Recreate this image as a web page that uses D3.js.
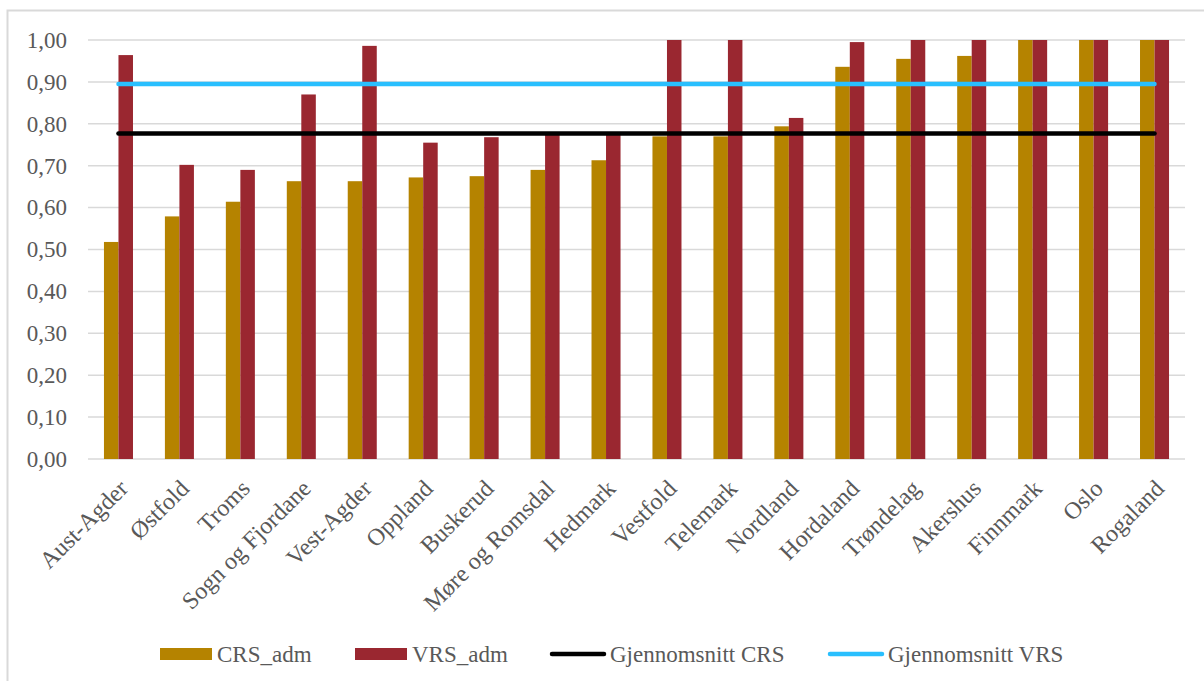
<!DOCTYPE html>
<html>
<head>
<meta charset="utf-8">
<script src="https://cdn.jsdelivr.net/npm/d3@7"></script>
</head>
<body style="margin:0;padding:0;background:#fff">
<svg id="chart" width="1204" height="681" style="display:block"></svg>
<script>
// Counties, sorted by CRS score
const categories = ["Aust-Agder", "Østfold", "Troms", "Sogn og Fjordane", "Vest-Agder", "Oppland",
  "Buskerud", "Møre og Romsdal", "Hedmark", "Vestfold", "Telemark", "Nordland", "Hordaland",
  "Trøndelag", "Akershus", "Finnmark", "Oslo", "Rogaland"];
const crsAdm = [0.518, 0.579, 0.614, 0.663, 0.663, 0.672, 0.675, 0.690, 0.713, 0.770, 0.770,
  0.794, 0.936, 0.955, 0.962, 1.000, 1.000, 1.000];
const vrsAdm = [0.964, 0.702, 0.690, 0.870, 0.986, 0.755, 0.768, 0.776, 0.776, 1.000, 1.000,
  0.814, 0.995, 1.000, 1.000, 1.000, 1.000, 1.000];
const avgCrs = [0.777];
const avgVrs = [0.895];
const yTicks = [0, 0.1, 0.2, 0.3, 0.4, 0.5, 0.6, 0.7, 0.8, 0.9, 1.0];
const seriesNames = ["CRS_adm", "VRS_adm"];
const lineNames = ["Gjennomsnitt CRS", "Gjennomsnitt VRS"];

const colors = { CRS_adm: "#B58300", VRS_adm: "#9A2730" };
const lineColors = ["#000000", "#29BFFE"];
const FONT = "Liberation Serif";
const TEXT_COLOR = "#595959";

const svg = d3.select("#chart");
const fmt = v => d3.format(".2f")(v).replace(".", ",");
const styleText = (sel, size) => sel.style("font-family", FONT).style("font-size", (size || 23) + "px")
  .style("fill", TEXT_COLOR);

// Chart area frame
svg.append("path")
  .attr("d", "M7.5,681 V10.5 H1204")
  .attr("fill", "none").attr("stroke", "#d9d9d9").attr("stroke-width", 2);

const plot = { left: 88, right: 1185, top: 40, bottom: 459 };

const x = d3.scaleBand().domain(categories).range([plot.left, plot.right]).padding(0);
const x1 = d3.scaleBand().domain(seriesNames).range([0, x.bandwidth()]).paddingOuter(1.1).paddingInner(0);
const y = d3.scaleLinear().domain([0, 1]).range([plot.bottom, plot.top]);

// Gridlines
svg.append("g")
  .selectAll("line").data(yTicks).join("line")
  .attr("x1", plot.left).attr("x2", plot.right)
  .attr("y1", d => y(d)).attr("y2", d => y(d))
  .attr("stroke", "#d9d9d9").attr("stroke-width", 1.5);

// Y axis labels
const yAxis = d3.axisLeft(y).tickValues(yTicks).tickFormat(fmt).tickSize(0).tickPadding(0);
const yg = svg.append("g").attr("transform", `translate(${plot.left - 21},0)`).call(yAxis);
yg.attr("font-family", null).attr("font-size", null);
yg.select(".domain").remove();
yg.selectAll("text").call(styleText, 23);

// Bars
const rows = categories.map((c, i) => ({ cat: c, CRS_adm: crsAdm[i], VRS_adm: vrsAdm[i] }));
const groups = svg.append("g").selectAll("g").data(rows).join("g")
  .attr("transform", d => `translate(${x(d.cat)},0)`);
groups.selectAll("rect")
  .data(d => seriesNames.map(k => ({ key: k, value: d[k] })))
  .join("rect")
  .attr("x", d => x1(d.key))
  .attr("width", x1.bandwidth())
  .attr("y", d => y(d.value))
  .attr("height", d => y(0) - y(d.value))
  .attr("fill", d => colors[d.key]);

// Average lines, spanning first to last category centre
const xFirst = x(categories[0]) + x.bandwidth() / 2;
const xLast = x(categories[categories.length - 1]) + x.bandwidth() / 2;
[avgCrs[0], avgVrs[0]].forEach((v, i) => {
  svg.append("line")
    .attr("x1", xFirst).attr("x2", xLast)
    .attr("y1", y(v)).attr("y2", y(v))
    .attr("stroke", lineColors[i]).attr("stroke-width", 4.5)
    .attr("stroke-linecap", "round");
});

// X axis labels, rotated
const xAxis = d3.axisBottom(x).tickSize(0).tickPadding(0);
const xg = svg.append("g").attr("transform", `translate(0,${plot.bottom})`).call(xAxis);
xg.attr("font-family", null).attr("font-size", null);
xg.select(".domain").remove();
xg.selectAll("text")
  .call(styleText, 24)
  .attr("text-anchor", "end")
  .attr("x", 0).attr("y", 0).attr("dy", "0.35em")
  .attr("transform", "translate(5,25) rotate(-45)");

// Legend
const legend = svg.append("g");
const legendItems = [
  { type: "rect", name: seriesNames[0], color: colors.CRS_adm, x0: 160 },
  { type: "rect", name: seriesNames[1], color: colors.VRS_adm, x0: 355 },
  { type: "line", name: lineNames[0], color: lineColors[0], x0: 552 },
  { type: "line", name: lineNames[1], color: lineColors[1], x0: 830 }
];
const ly = 654;
legendItems.forEach(it => {
  if (it.type === "rect") {
    legend.append("rect").attr("x", it.x0).attr("y", ly - 6).attr("width", 52).attr("height", 12)
      .attr("fill", it.color);
    legend.append("text").attr("x", it.x0 + 57).attr("y", ly).attr("dy", "0.35em")
      .call(styleText, 23).text(it.name);
  } else {
    legend.append("line").attr("x1", it.x0).attr("x2", it.x0 + 52).attr("y1", ly).attr("y2", ly)
      .attr("stroke", it.color).attr("stroke-width", 4.5).attr("stroke-linecap", "round");
    legend.append("text").attr("x", it.x0 + 58).attr("y", ly).attr("dy", "0.35em")
      .call(styleText, 23).text(it.name);
  }
});
</script>
</body>
</html>
